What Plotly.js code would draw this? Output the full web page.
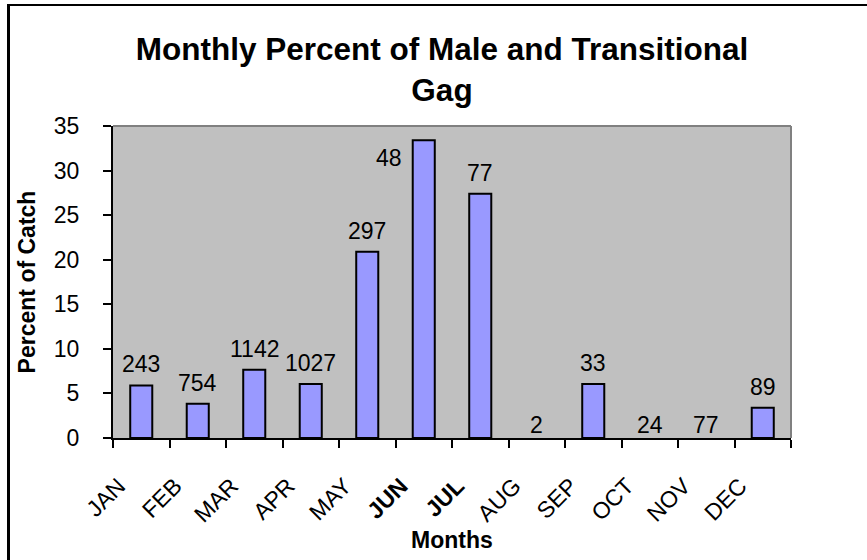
<!DOCTYPE html>
<html>
<head>
<meta charset="utf-8">
<script src="https://cdn.plot.ly/plotly-3.0.1.min.js"></script>
<style>
  html, body { margin: 0; padding: 0; background: #fff; }
  #chart { width: 867px; height: 560px; position: relative; }
  #frame { position: absolute; left: 7px; top: 4px; width: 900px; height: 600px;
           border-left: 3px solid #000; border-top: 2px solid #000; pointer-events: none; }
</style>
</head>
<body>
<div id="chart"></div>
<div id="frame"></div>
<script>
const months = ['JAN','FEB','MAR','APR','MAY','JUN','JUL','AUG','SEP','OCT','NOV','DEC'];
const monthLabels = ['JAN','FEB','MAR','APR','MAY','<b>JUN</b>','<b>JUL</b>','AUG','SEP','OCT','NOV','DEC'];
const percentOfCatch = [5.9, 3.85, 7.65, 6.05, 20.9, 33.4, 27.4, 0, 6.05, 0, 0, 3.4];
const sampleSizes = ['243','754','1142','1027','297','48','77','2','33','24','77','89'];

const FONT = 'Liberation Sans, Arial, Helvetica, sans-serif';
const yMax = 35;
const labelLead = 0.40;   // rotated month labels sit a little left of the bar centres

const trace = {
  type: 'bar',
  x: months,
  y: percentOfCatch,
  marker: {
    color: '#9999ff',
    line: { color: '#000000', width: percentOfCatch.map(v => (v > 0 ? 2 : 0)) }
  },
  hoverinfo: 'x+y',
  cliponaxis: false
};

const annotations = months.map((m, i) => {
  const v = percentOfCatch[i];
  const tooHigh = v > yMax - 3;   // label would leave the plot: put it beside the bar
  return {
    x: m, y: v, xref: 'x', yref: 'y',
    text: sampleSizes[i], showarrow: false,
    xanchor: 'center', yanchor: 'middle',
    xshift: tooHigh ? -35 : 0,
    yshift: tooHigh ? -18 : (v > 0 ? 21 : 13),
    font: { family: FONT, size: 23, color: '#000' }
  };
});

const layout = {
  width: 867, height: 560,
  margin: { l: 113, r: 76, t: 126, b: 122 },
  paper_bgcolor: '#ffffff',
  plot_bgcolor: '#c0c0c0',
  showlegend: false,
  bargap: 0.61,
  title: {
    text: 'Monthly Percent of Male and Transitional<br>Gag',
    font: { family: FONT, size: 31.5, color: '#000', weight: 'bold' },
    x: 442 / 867, xanchor: 'center', xref: 'container',
    y: 1 - 60 / 560, yanchor: 'top', yref: 'container'
  },
  xaxis: {
    type: 'category',
    categoryorder: 'array', categoryarray: months,
    range: [-0.5, months.length - 0.5],
    tickson: 'boundaries',
    ticks: 'outside', ticklen: 8, tickwidth: 2, tickcolor: '#000',
    showticklabels: false,
    showline: true, linecolor: '#000', linewidth: 2,
    showgrid: false, zeroline: false,
    automargin: false
  },
  xaxis2: {
    type: 'linear',
    overlaying: 'x', anchor: 'y', side: 'bottom',
    range: [-0.5, months.length - 0.5],
    tickmode: 'array',
    tickvals: months.map((_, i) => i - labelLead),
    ticktext: monthLabels,
    ticks: '', showline: false, showgrid: false, zeroline: false,
    tickangle: -45,
    tickfont: { family: FONT, size: 23, color: '#000' },
    ticklabelstandoff: 29,
    automargin: false,
    title: { text: 'Months', font: { family: FONT, size: 23, color: '#000', weight: 'bold' }, standoff: 5 }
  },
  yaxis: {
    range: [0, yMax], dtick: 5, tick0: 0,
    ticks: 'outside', ticklen: 8, tickwidth: 2, tickcolor: '#000',
    showline: true, linecolor: '#000', linewidth: 2,
    showgrid: false, zeroline: false,
    tickfont: { family: FONT, size: 23, color: '#000' },
    ticklabelstandoff: 19,
    automargin: false,
    title: { text: 'Percent of Catch', font: { family: FONT, size: 23, color: '#000', weight: 'bold' }, standoff: 12 }
  },
  shapes: [
    { type: 'line', xref: 'paper', yref: 'paper', x0: 0, x1: 1, y0: 1, y1: 1, line: { color: '#808080', width: 2 } },
    { type: 'line', xref: 'paper', yref: 'paper', x0: 1, x1: 1, y0: 0, y1: 1, line: { color: '#808080', width: 2 } }
  ],
  annotations: annotations
};

const labelAxisTrace = { type: 'scatter', mode: 'none', x: [null], y: [null], xaxis: 'x2', yaxis: 'y', hoverinfo: 'skip', showlegend: false };

Plotly.newPlot('chart', [trace, labelAxisTrace], layout, { displayModeBar: false, staticPlot: true });
</script>
</body>
</html>
